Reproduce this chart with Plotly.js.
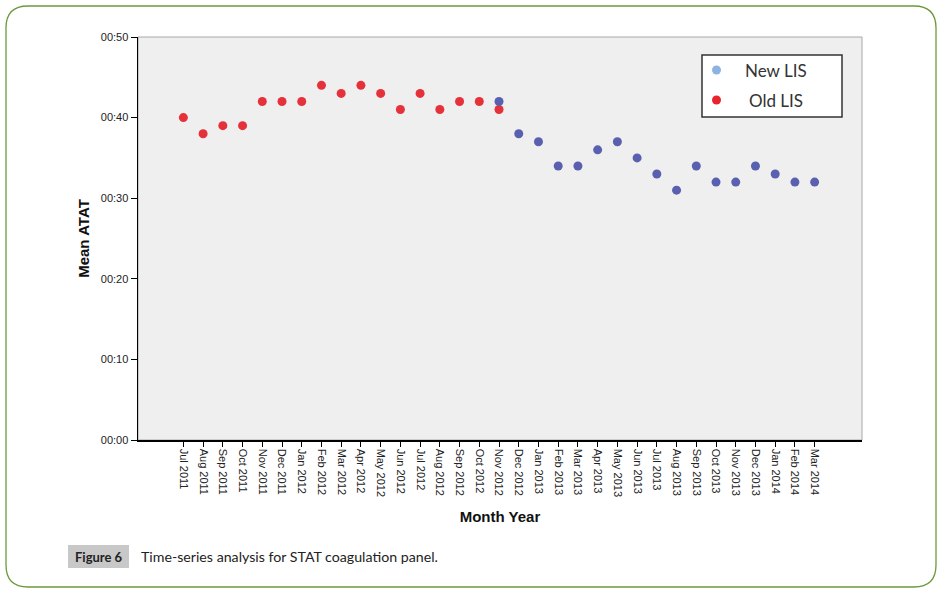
<!DOCTYPE html>
<html>
<head>
<meta charset="utf-8">
<script src="https://cdn.plot.ly/plotly-3.0.1.min.js"></script>
<style>
  html, body { margin: 0; padding: 0; background: #ffffff; }
  #chart { width: 942px; height: 592px; }
</style>
</head>
<body>
<div id="chart"></div>
<script>
// ---- data ----
const months = ["Jul 2011","Aug 2011","Sep 2011","Oct 2011","Nov 2011","Dec 2011","Jan 2012","Feb 2012",
  "Mar 2012","Apr 2012","May 2012","Jun 2012","Jul 2012","Aug 2012","Sep 2012","Oct 2012","Nov 2012",
  "Dec 2012","Jan 2013","Feb 2013","Mar 2013","Apr 2013","May 2013","Jun 2013","Jul 2013","Aug 2013",
  "Sep 2013","Oct 2013","Nov 2013","Dec 2013","Jan 2014","Feb 2014","Mar 2014"];
const oldMonths = months.slice(0, 17);
const oldLIS = [40, 38, 39, 39, 42, 42, 42, 44, 43, 44, 43, 41, 43, 41, 42, 42, 41];
const newMonths = months.slice(16);
const newLIS = [42, 38, 37, 34, 34, 36, 37, 35, 33, 31, 34, 32, 32, 34, 33, 32, 32];
const yTickVals = [0, 10, 20, 30, 40, 50];
const yTickText = ["00:00", "00:10", "00:20", "00:30", "00:40", "00:50"];
const legendNames = ["New LIS", "Old LIS"];
const legendColors = ["#8db3e2", "#e8232d"];

// ---- geometry helpers (pixel -> paper) ----
const L = 138, R = 862, T = 37, B = 440, W = 942, H = 592;
const px = v => (v - L) / (R - L);
const py = v => (B - v) / (B - T);

const traces = [
  { type: "scatter", mode: "markers", name: "Old LIS", x: oldMonths, y: oldLIS,
    marker: { color: "#e5313a", size: 9 }, showlegend: false, hoverinfo: "x+y" },
  { type: "scatter", mode: "markers", name: "New LIS", x: newMonths, y: newLIS,
    marker: { color: "#5a60b0", size: 9 }, showlegend: false, hoverinfo: "x+y" }
];

// rounded green frame
const bx0 = 6, bx1 = 936, by0 = 6, by1 = 587, rr = 22;
const framePath = [
  "M", px(bx0 + rr), py(by0),
  "L", px(bx1 - rr), py(by0),
  "Q", px(bx1), py(by0), px(bx1), py(by0 + rr),
  "L", px(bx1), py(by1 - rr),
  "Q", px(bx1), py(by1), px(bx1 - rr), py(by1),
  "L", px(bx0 + rr), py(by1),
  "Q", px(bx0), py(by1), px(bx0), py(by1 - rr),
  "L", px(bx0), py(by0 + rr),
  "Q", px(bx0), py(by0), px(bx0 + rr), py(by0),
  "Z"
].map((t, i) => typeof t === "number" ? t.toFixed(5) : t).join(" ").replace(/ ([\d\-.]+) ([\d\-.]+)/g, " $1,$2");

const shapes = [
  { type: "rect", xref: "paper", yref: "paper", x0: 0, x1: 1, y0: 0, y1: 1,
    line: { color: "#a8a8a8", width: 1 }, layer: "below" },
  { type: "path", xref: "paper", yref: "paper", path: framePath,
    line: { color: "#6b9a3c", width: 1.3 } },
  // custom legend box
  { type: "rect", xref: "paper", yref: "paper", x0: px(702), x1: px(842), y0: py(117), y1: py(55),
    fillcolor: "#ffffff", line: { color: "#333333", width: 1.5 } },
  { type: "circle", xref: "paper", yref: "paper", x0: px(712), x1: px(721), y0: py(74.5), y1: py(65.5),
    fillcolor: legendColors[0], line: { width: 0 } },
  { type: "circle", xref: "paper", yref: "paper", x0: px(712), x1: px(721), y0: py(104.5), y1: py(95.5),
    fillcolor: legendColors[1], line: { width: 0 } },
  // caption grey box
  { type: "rect", xref: "paper", yref: "paper", x0: px(68), x1: px(129), y0: py(568), y1: py(545),
    fillcolor: "#c8c8c8", line: { width: 0 } }
];

const annotations = [
  { xref: "paper", yref: "paper", x: px(743), y: py(70), xanchor: "left", yanchor: "middle",
    text: legendNames[0], showarrow: false, font: { family: "Lato, 'Open Sans', sans-serif", size: 17, color: "#333333" } },
  { xref: "paper", yref: "paper", x: px(747), y: py(100), xanchor: "left", yanchor: "middle",
    text: legendNames[1], showarrow: false, font: { family: "Lato, 'Open Sans', sans-serif", size: 17, color: "#333333" } },
  { xref: "paper", yref: "paper", x: px(98.5), y: py(556.5), xanchor: "center", yanchor: "middle",
    text: "<b>Figure 6</b>", showarrow: false, font: { family: "Lato, 'Open Sans', sans-serif", size: 13, color: "#222222" } },
  { xref: "paper", yref: "paper", x: px(139), y: py(556.5), xanchor: "left", yanchor: "middle",
    text: "Time-series analysis for STAT coagulation panel.", showarrow: false,
    font: { family: "Lato, 'Open Sans', sans-serif", size: 14.2, color: "#222222" } }
];

const layout = {
  width: W, height: H,
  margin: { l: L, r: W - R, t: T, b: H - B, pad: 0 },
  paper_bgcolor: "#ffffff",
  plot_bgcolor: "#efefef",
  showlegend: false,
  font: { family: "'Liberation Sans', Arial, sans-serif", color: "#222222" },
  xaxis: {
    type: "category", categoryorder: "array", categoryarray: months,
    range: [-2.3, 34.4],
    showgrid: false, zeroline: false,
    showline: true, linecolor: "#000000", linewidth: 1.5,
    ticks: "outside", ticklen: 5, tickcolor: "#000000", tickwidth: 1,
    tickangle: 90, tickfont: { size: 11, color: "#222222" },
    title: { text: "<b>Month Year</b>", font: { size: 15, color: "#111111" }, standoff: 15 }
  },
  yaxis: {
    range: [0, 50],
    tickvals: yTickVals, ticktext: yTickText,
    showgrid: false, zeroline: false,
    showline: true, linecolor: "#000000", linewidth: 1.5,
    ticks: "outside", ticklen: 6, tickcolor: "#000000", tickwidth: 1,
    tickfont: { size: 11, color: "#222222" },
    title: { text: "<b>Mean ATAT</b>", font: { size: 15, color: "#111111" }, standoff: 7 }
  },
  shapes: shapes,
  annotations: annotations
};

Plotly.newPlot("chart", traces, layout, { displayModeBar: false, staticPlot: true });
</script>
</body>
</html>
